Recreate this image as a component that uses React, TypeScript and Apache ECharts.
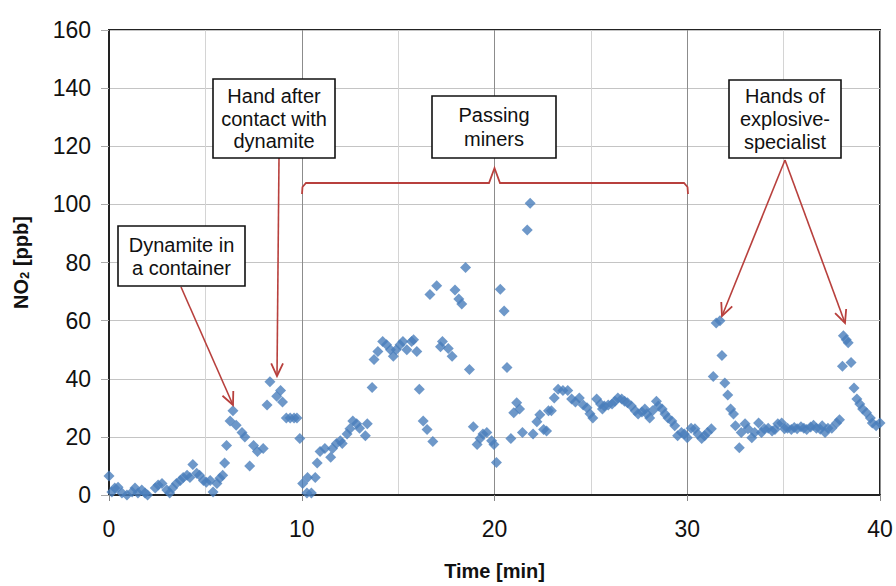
import React, { useEffect, useRef } from "react";
import * as echarts from "echarts";

// Time [min]
const times: number[] = [
  0, 0.15, 0.3, 0.47, 0.67, 0.93, 1.2, 1.35, 1.5, 1.7, 1.87, 2.0, 2.4, 2.55, 2.75, 3.0, 3.15, 3.3, 3.5, 3.7,
  3.85, 4.05, 4.2, 4.35, 4.55, 4.7, 4.9, 5.05, 5.25, 5.4, 5.6, 5.75, 5.9, 6.0, 6.1, 6.28, 6.43, 6.6, 6.9, 7.05,
  7.3, 7.5, 7.7, 8.0, 8.2, 8.35, 8.7, 8.9, 9.0, 9.2, 9.4, 9.6, 9.75, 9.9, 10.05, 10.27, 10.3, 10.5, 10.7, 10.8,
  10.95, 11.2, 11.5, 11.6, 11.8, 12.0, 12.1, 12.35, 12.5, 12.65, 12.85, 13.0, 13.3, 13.4, 13.65, 13.75, 13.95, 14.2, 14.4, 14.6,
  14.75, 14.9, 15.1, 15.25, 15.45, 15.7, 15.8, 15.97, 16.1, 16.3, 16.5, 16.65, 16.8, 17.0, 17.2, 17.3, 17.6, 17.8, 17.95, 18.15,
  18.3, 18.5, 18.7, 18.9, 19.1, 19.25, 19.4, 19.6, 19.85, 19.97, 20.1, 20.3, 20.5, 20.65, 20.85, 21.0, 21.15, 21.3, 21.45, 21.7,
  21.85, 22.0, 22.2, 22.35, 22.55, 22.7, 22.8, 22.95, 23.1, 23.3, 23.55, 23.8, 24.0, 24.2, 24.4, 24.6, 24.8, 24.95, 25.1, 25.3,
  25.5, 25.6, 25.7, 25.9, 26.1, 26.25, 26.4, 26.6, 26.75, 26.9, 27.1, 27.3, 27.45, 27.65, 27.8, 27.9, 28.05, 28.2, 28.4, 28.5,
  28.7, 28.85, 29.0, 29.2, 29.35, 29.5, 29.7, 29.85, 30.0, 30.2, 30.4, 30.55, 30.75, 30.9, 31.05, 31.25, 31.35, 31.5, 31.7, 31.8,
  31.95, 32.1, 32.25, 32.4, 32.5, 32.7, 32.8, 33.0, 33.15, 33.35, 33.5, 33.7, 33.85, 34.0, 34.2, 34.4, 34.55, 34.7, 34.9, 35.05,
  35.2, 35.4, 35.55, 35.7, 35.9, 36.05, 36.2, 36.4, 36.55, 36.7, 36.9, 37.0, 37.15, 37.3, 37.5, 37.75, 37.9, 38.05, 38.1, 38.25,
  38.35, 38.5, 38.65, 38.8, 38.95, 39.1, 39.3, 39.5, 39.6, 39.8, 40.0,
];

// NO2 [ppb]
const no2: number[] = [
  6.5, 1, 2.4, 2.7, 0.7, 0, 1, 2.4, 0.7, 1.7, 0.7, 0, 2.4, 3.4, 4, 1.7, 0.7, 2.4, 4, 5,
  6, 6.8, 6, 10.5, 7.5, 6.8, 5, 4.4, 5, 1, 4, 5.8, 6.8, 11, 17, 25.5, 29, 24, 21.5, 20,
  10, 17, 15, 16, 31, 39, 34, 36, 32, 26.5, 26.5, 26.5, 26.5, 19.4, 4, 0.7, 6, 0.7, 6, 11,
  15, 16, 13, 16, 17.7, 18.7, 17.7, 21, 22.8, 25.5, 24.5, 23, 20.4, 24.5, 37, 46.6, 49.4, 52.8, 51.7, 50,
  47.7, 50, 51.7, 52.8, 50, 52.8, 53.4, 49.4, 36.4, 25.5, 22.5, 69, 18.4, 72, 51, 52.8, 50.4, 47.7, 70.5, 67.4,
  65.7, 78.3, 43.2, 23.5, 17.4, 19.4, 21, 21.5, 18.7, 17.4, 11.2, 70.8, 63.3, 43.9, 19.4, 28.3, 31.7, 29.6, 21.5, 91.2,
  100.4, 21, 25.2, 27.6, 22.5, 22, 29, 29, 33.4, 36.4, 36, 36, 33, 32, 33.4, 31, 30, 28, 26.5, 33,
  31.3, 29.6, 30.6, 31, 31.3, 32.3, 33.4, 33, 32.3, 31.7, 30.6, 29, 27.9, 28.6, 29.6, 28, 26.5, 29, 32.3, 30.6,
  29.6, 27.9, 26.5, 25.5, 23.8, 20.4, 21.5, 21, 19.7, 23, 22.8, 21, 19.4, 20.4, 21.5, 22.8, 40.8, 59.2, 60, 48,
  38.5, 34.4, 29.6, 27.9, 23.8, 16.3, 21.5, 24.5, 22.8, 19.7, 21.5, 24.8, 21.5, 22.8, 23, 22, 22.5, 24.5, 24.8, 22.8,
  23, 22.5, 23.2, 22.8, 23.5, 23, 22.5, 23.4, 24, 23, 22.6, 23.8, 21.5, 23, 23, 24.8, 25.9, 44.3, 54.8, 53.4,
  52.4, 45.6, 36.8, 33, 31.3, 29.6, 28.3, 26.5, 24.8, 23.8, 24.8,
];

const xTicks: number[] = [0, 10, 20, 30, 40];
const yTicks: number[] = [0, 20, 40, 60, 80, 100, 120, 140, 160];

const noteDynamite = ["Dynamite in", "a container"];
const noteHand = ["Hand after", "contact with", "dynamite"];
const notePassing = ["Passing", "miners"];
const noteSpecialist = ["Hands of", "explosive-", "specialist"];

const FONT = '"Liberation Sans", Arial, sans-serif';
const RED = "#b8403d";

function box(x: number, y: number, w: number, h: number, lines: string[], lh: number) {
  return [
    {
      type: "rect",
      shape: { x, y, width: w, height: h },
      style: { fill: "#fff", stroke: "#111", lineWidth: 1.6 },
      z: 100,
    },
    {
      type: "text",
      x: x + w / 2,
      y: y + h / 2,
      style: {
        text: lines.join("\n"),
        font: `20px ${FONT}`,
        fill: "#111",
        align: "center",
        verticalAlign: "middle",
        lineHeight: lh,
      },
      z: 101,
    },
  ];
}

function arrow(x1: number, y1: number, x2: number, y2: number) {
  const ang = Math.atan2(y2 - y1, x2 - x1);
  const L = 14;
  const a = (25 * Math.PI) / 180;
  const p1 = [x2 - L * Math.cos(ang - a), y2 - L * Math.sin(ang - a)];
  const p2 = [x2 - L * Math.cos(ang + a), y2 - L * Math.sin(ang + a)];
  return [
    {
      type: "line",
      shape: { x1, y1, x2, y2 },
      style: { stroke: RED, lineWidth: 1.6 },
      z: 90,
    },
    {
      type: "polyline",
      shape: { points: [p1, [x2, y2], p2] },
      style: { stroke: RED, lineWidth: 1.8, fill: null },
      z: 90,
    },
  ];
}

export default function App() {
  const ref = useRef<HTMLDivElement>(null);

  useEffect(() => {
    if (!ref.current) return;
    const chart = echarts.init(ref.current, null, { renderer: "svg" });
    const data = times.map((t, i) => [t, no2[i]]);

    const graphics: any[] = [
      ...arrow(181, 287, 233, 405),
      ...arrow(279, 158, 277, 376),
      ...arrow(785, 160, 722, 316),
      ...arrow(785, 160, 845, 323),
      {
        type: "polyline",
        shape: {
          points: [
            [302, 194],
            [302.5, 187],
            [306, 183],
            [489, 183],
            [494.5, 168],
            [500, 183],
            [684, 183],
            [687.5, 187],
            [688, 194],
          ],
        },
        style: { stroke: RED, lineWidth: 1.8, fill: null },
        z: 90,
      },
      ...box(118, 226, 127, 60, noteDynamite, 23),
      ...box(213, 79, 122, 79, noteHand, 22.5),
      ...box(432, 96, 124, 62, notePassing, 24),
      ...box(729, 80, 112, 78, noteSpecialist, 23),
    ];

    chart.setOption({
      animation: false,
      backgroundColor: "#fff",
      textStyle: { fontFamily: FONT },
      grid: {
        left: 109,
        right: 16,
        top: 30,
        bottom: 86,
        show: true,
        borderColor: "#222",
        borderWidth: 2,
        backgroundColor: "transparent",
      },
      xAxis: {
        type: "value",
        min: xTicks[0],
        max: xTicks[xTicks.length - 1],
        interval: 10,
        name: "Time [min]",
        nameLocation: "middle",
        nameGap: 66,
        nameTextStyle: { fontSize: 20, fontWeight: "bold", color: "#111", fontFamily: FONT },
        axisLine: { show: true, lineStyle: { color: "#222", width: 2 } },
        axisTick: { show: true, length: 6, lineStyle: { color: "#888" } },
        axisLabel: {
          fontSize: 23,
          color: "#111",
          margin: 22,
          formatter: (v: number) => (xTicks.includes(v) ? String(v) : ""),
        },
        splitLine: { show: true, lineStyle: { color: "#8c8c8c", width: 1 } },
        minorTick: { show: false, splitNumber: 2 },
        minorSplitLine: { show: true, lineStyle: { color: "#d4d4d4", width: 1 } },
      },
      yAxis: {
        type: "value",
        min: yTicks[0],
        max: yTicks[yTicks.length - 1],
        interval: 20,
        name: "{a|NO}{s|2}{a| [ppb]}",
        nameLocation: "middle",
        nameRotate: 90,
        nameGap: 78,
        nameTextStyle: {
          rich: {
            a: { fontSize: 20, fontWeight: "bold", color: "#111", fontFamily: FONT },
            s: { fontSize: 13, fontWeight: "bold", color: "#111", fontFamily: FONT, verticalAlign: "bottom", padding: [8, 0, 0, 0] },
          },
        },
        axisLine: { show: true, lineStyle: { color: "#222", width: 2 } },
        axisTick: { show: true, length: 8, lineStyle: { color: "#aaa" } },
        axisLabel: { fontSize: 23, color: "#111", margin: 18 },
        splitLine: { show: true, lineStyle: { color: "#c4c4c4", width: 1 } },
      },
      series: [
        {
          type: "scatter",
          data,
          symbol: "diamond",
          symbolSize: 11,
          clip: false,
          itemStyle: { color: "#4a7ebb" },
          z: 5,
        },
      ],
      graphic: graphics,
    });

    return () => chart.dispose();
  }, []);

  return (
    <div
      ref={ref}
      style={{ position: "fixed", left: 0, top: 0, width: 896, height: 586, background: "#fff" }}
    />
  );
}
